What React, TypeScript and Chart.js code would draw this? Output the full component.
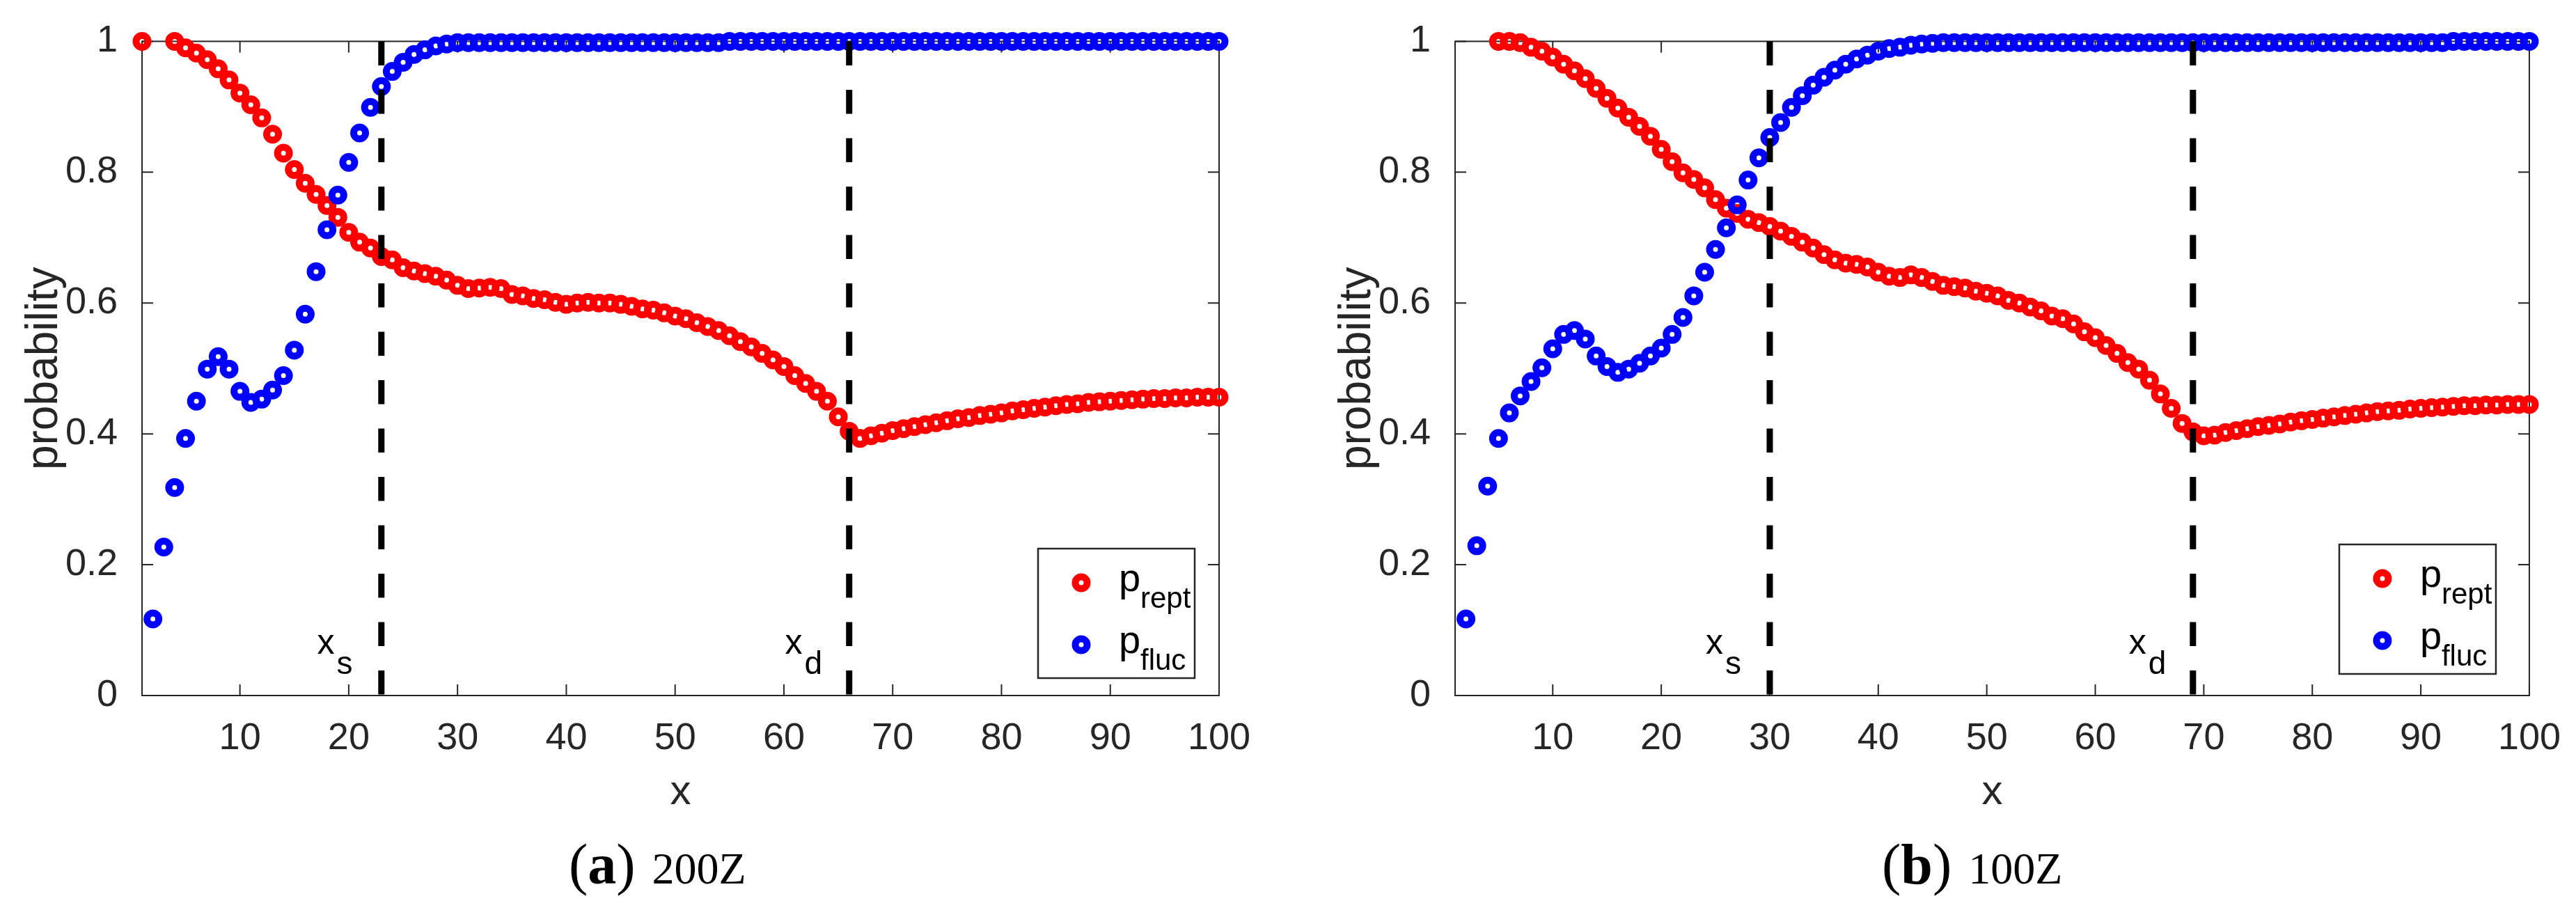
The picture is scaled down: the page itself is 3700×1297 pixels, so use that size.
import React, { useEffect, useRef } from 'react';
import { Chart, registerables } from 'chart.js';

Chart.register(...registerables);

// ---------------- DATA ----------------
const X_VALUES = [
  1, 2, 3, 4, 5, 6, 7, 8, 9, 10, 11, 12, 13, 14, 15, 16, 17, 18, 19, 20,
  21, 22, 23, 24, 25, 26, 27, 28, 29, 30, 31, 32, 33, 34, 35, 36, 37, 38, 39, 40,
  41, 42, 43, 44, 45, 46, 47, 48, 49, 50, 51, 52, 53, 54, 55, 56, 57, 58, 59, 60,
  61, 62, 63, 64, 65, 66, 67, 68, 69, 70, 71, 72, 73, 74, 75, 76, 77, 78, 79, 80,
  81, 82, 83, 84, 85, 86, 87, 88, 89, 90, 91, 92, 93, 94, 95, 96, 97, 98, 99, 100,
];

// panel (a) 200Z
const P_REPT_A = [
  1.0, null, null, 1.0, 0.99, 0.982, 0.972, 0.958, 0.941, 0.921,
  0.903, 0.883, 0.858, 0.829, 0.804, 0.783, 0.766, 0.749, 0.731, 0.708,
  0.693, 0.684, 0.671, 0.666, 0.654, 0.649, 0.645, 0.641, 0.635, 0.627,
  0.622, 0.623, 0.624, 0.622, 0.613, 0.611, 0.607, 0.605, 0.601, 0.598,
  0.6, 0.601, 0.6, 0.6, 0.598, 0.595, 0.591, 0.589, 0.585, 0.58,
  0.576, 0.57, 0.564, 0.558, 0.55, 0.541, 0.533, 0.523, 0.513, 0.503,
  0.489, 0.477, 0.465, 0.45, 0.426, 0.404, 0.393, 0.397, 0.401, 0.405,
  0.408, 0.411, 0.414, 0.417, 0.42, 0.423, 0.425, 0.428, 0.43, 0.432,
  0.435, 0.437, 0.439, 0.441, 0.443, 0.445, 0.446, 0.448, 0.449, 0.45,
  0.451, 0.452, 0.453, 0.454, 0.454, 0.455, 0.455, 0.456, 0.456, 0.456,
];
const P_FLUC_A = [
  null, 0.117, 0.227, 0.318, 0.393, 0.45, 0.499, 0.518, 0.499, 0.465,
  0.448, 0.453, 0.467, 0.489, 0.528, 0.583, 0.648, 0.712, 0.765, 0.815,
  0.86, 0.899, 0.931, 0.954, 0.968, 0.98, 0.987, 0.993, 0.996, 0.998,
  0.998, 0.998, 0.998, 0.998, 0.998, 0.998, 0.998, 0.998, 0.998, 0.998,
  0.998, 0.998, 0.998, 0.998, 0.998, 0.998, 0.998, 0.998, 0.998, 0.998,
  0.998, 0.998, 0.998, 0.998, 1.0, 1.0, 1.0, 1.0, 1.0, 1.0,
  1.0, 1.0, 1.0, 1.0, 1.0, 1.0, 1.0, 1.0, 1.0, 1.0,
  1.0, 1.0, 1.0, 1.0, 1.0, 1.0, 1.0, 1.0, 1.0, 1.0,
  1.0, 1.0, 1.0, 1.0, 1.0, 1.0, 1.0, 1.0, 1.0, 1.0,
  1.0, 1.0, 1.0, 1.0, 1.0, 1.0, 1.0, 1.0, 1.0, 1.0,
];

// panel (b) 100Z
const P_REPT_B = [
  null, null, null, null, 1.0, 1.0, 0.998, 0.991, 0.985, 0.976,
  0.965, 0.955, 0.943, 0.928, 0.913, 0.898, 0.884, 0.87, 0.855, 0.835,
  0.816, 0.799, 0.789, 0.776, 0.758, 0.745, 0.737, 0.728, 0.723, 0.717,
  0.71, 0.702, 0.693, 0.684, 0.674, 0.666, 0.661, 0.659, 0.655, 0.647,
  0.641, 0.639, 0.643, 0.639, 0.633, 0.627, 0.625, 0.623, 0.618, 0.615,
  0.611, 0.604, 0.6, 0.594, 0.588, 0.58, 0.576, 0.568, 0.556, 0.547,
  0.535, 0.523, 0.509, 0.499, 0.482, 0.461, 0.439, 0.416, 0.403, 0.397,
  0.398, 0.402, 0.405, 0.408, 0.411, 0.413, 0.415, 0.418, 0.42, 0.422,
  0.424, 0.426, 0.428, 0.43, 0.432, 0.434, 0.435, 0.436, 0.438, 0.439,
  0.44, 0.441, 0.442, 0.443, 0.443, 0.444, 0.444, 0.445, 0.445, 0.445,
];
const P_FLUC_B = [
  null, 0.117, 0.229, 0.32, 0.393, 0.432, 0.458, 0.48, 0.501, 0.53,
  0.552, 0.558, 0.545, 0.519, 0.503, 0.494, 0.499, 0.508, 0.519, 0.531,
  0.552, 0.578, 0.611, 0.647, 0.682, 0.715, 0.75, 0.788, 0.822, 0.853,
  0.876, 0.899, 0.917, 0.933, 0.945, 0.956, 0.965, 0.973, 0.979, 0.985,
  0.989, 0.991, 0.994, 0.996, 0.997, 0.998, 0.998, 0.998, 0.998, 0.998,
  0.998, 0.998, 0.998, 0.998, 0.998, 0.998, 0.998, 0.998, 0.998, 0.998,
  0.998, 0.998, 0.998, 0.998, 0.998, 0.998, 0.998, 0.998, 0.998, 0.998,
  0.998, 0.998, 0.998, 0.998, 0.998, 0.998, 0.998, 0.998, 0.998, 0.998,
  0.998, 0.998, 0.998, 0.998, 0.998, 0.998, 0.998, 0.998, 0.998, 0.998,
  0.998, 0.998, 1.0, 1.0, 1.0, 1.0, 1.0, 1.0, 1.0, 1.0,
];

const X_TICKS = [10, 20, 30, 40, 50, 60, 70, 80, 90, 100];
const Y_TICKS = [0, 0.2, 0.4, 0.6, 0.8, 1];
const Y_TICK_LABELS = ['0', '0.2', '0.4', '0.6', '0.8', '1'];

const XS_VALUES = [23, 30];
const XD_VALUES = [66, 69];
const PANEL_LETTERS = ['a', 'b'];
const PANEL_CAPTIONS = ['200Z', '100Z'];
const REPT_SERIES = [P_REPT_A, P_REPT_B];
const FLUC_SERIES = [P_FLUC_A, P_FLUC_B];
const LEGEND_MAIN = ['p', 'p'];
const LEGEND_SUBS = ['rept', 'fluc'];
const X_TITLE = 'x';
const Y_TITLE = 'probability';

// ---------------- STYLE / LAYOUT ----------------
const SANS = "'Liberation Sans', Arial, Helvetica, sans-serif";
const SERIF = "'Liberation Serif', 'Times New Roman', serif";
const AXIS_COLOR = '#262626';
const RED = '#ff0000';
const BLUE = '#0000ff';
const PANEL_W = 1850;
const PANEL_H = 1297;
const PLOT_TOP = 59;
const PLOT_BOTTOM = 999;
const PLOT_LEFT = [204, 240];
const PLOT_RIGHT_PAD = [99, 62];
const LEGEND_RIGHT_GAP = [35, 48];
const LEGEND_BOTTOM_GAP = [25, 31];
const TICK_LEN = 16;

function makeDecorPlugin(p: number) {
  return {
    id: 'decor' + p,
    beforeDatasetsDraw(chart: any) {
      const { ctx, chartArea: ca, scales } = chart;
      ctx.save();
      ctx.strokeStyle = AXIS_COLOR;
      ctx.lineWidth = 2;
      ctx.strokeRect(ca.left, ca.top, ca.right - ca.left, ca.bottom - ca.top);
      ctx.beginPath();
      for (const v of X_TICKS) {
        const px = scales.x.getPixelForValue(v);
        ctx.moveTo(px, ca.bottom);
        ctx.lineTo(px, ca.bottom - TICK_LEN);
        ctx.moveTo(px, ca.top);
        ctx.lineTo(px, ca.top + TICK_LEN);
      }
      for (const v of Y_TICKS) {
        const py = scales.y.getPixelForValue(v);
        ctx.moveTo(ca.left, py);
        ctx.lineTo(ca.left + TICK_LEN, py);
        ctx.moveTo(ca.right, py);
        ctx.lineTo(ca.right - TICK_LEN, py);
      }
      ctx.stroke();
      ctx.restore();
    },
    afterDatasetsDraw(chart: any) {
      const { ctx, chartArea: ca, scales } = chart;
      ctx.save();
      ctx.fillStyle = '#000';
      ctx.textBaseline = 'alphabetic';
      ctx.textAlign = 'left';

      // x_s / x_d annotations
      const drawSub = (main: string, sub: string, xv: number) => {
        const x0 = scales.x.getPixelForValue(xv - 5.9);
        ctx.font = `50px ${SANS}`;
        ctx.fillText(main, x0, ca.bottom - 60);
        const w = ctx.measureText(main).width;
        ctx.font = `46px ${SANS}`;
        ctx.fillText(sub, x0 + w + 3, ca.bottom - 31);
      };
      drawSub('x', 's', XS_VALUES[p]);
      drawSub('x', 'd', XD_VALUES[p]);

      // legend
      const LW = 225;
      const LH = 186;
      const lx = ca.right - LEGEND_RIGHT_GAP[p] - LW;
      const ly = ca.bottom - LEGEND_BOTTOM_GAP[p] - LH;
      ctx.fillStyle = '#fff';
      ctx.fillRect(lx, ly, LW, LH);
      ctx.strokeStyle = AXIS_COLOR;
      ctx.lineWidth = 2.5;
      ctx.strokeRect(lx, ly, LW, LH);
      const colors = [RED, BLUE];
      for (let i = 0; i < 2; i++) {
        const cy = ly + 49 + i * 89;
        ctx.beginPath();
        ctx.arc(lx + 62, cy, 8.5, 0, Math.PI * 2);
        ctx.strokeStyle = colors[i];
        ctx.lineWidth = 10;
        ctx.stroke();
        ctx.fillStyle = '#000';
        ctx.font = `56px ${SANS}`;
        ctx.fillText(LEGEND_MAIN[i], lx + 116, cy + 12);
        ctx.font = `42px ${SANS}`;
        ctx.fillText(LEGEND_SUBS[i], lx + 147, cy + 36);
      }

      // axis titles
      ctx.fillStyle = AXIS_COLOR;
      ctx.textAlign = 'center';
      ctx.font = `60px ${SANS}`;
      ctx.fillText(X_TITLE, (ca.left + ca.right) / 2, 1155);
      ctx.save();
      ctx.translate(ca.left - 122.5, (ca.top + ca.bottom) / 2);
      ctx.rotate(-Math.PI / 2);
      ctx.font = `64px ${SANS}`;
      ctx.fillText(Y_TITLE, 0, 0);
      ctx.restore();

      // caption
      ctx.fillStyle = '#000';
      ctx.textAlign = 'left';
      let cx = ca.left + 613;
      const base = 1269;
      ctx.font = `82px ${SERIF}`;
      ctx.fillText('(', cx, base);
      cx += ctx.measureText('(').width;
      ctx.font = `bold 82px ${SERIF}`;
      ctx.fillText(PANEL_LETTERS[p], cx, base);
      cx += ctx.measureText(PANEL_LETTERS[p]).width;
      ctx.font = `82px ${SERIF}`;
      ctx.fillText(')', cx, base);
      cx += ctx.measureText(')').width + 24;
      ctx.font = `64px ${SERIF}`;
      ctx.fillText(PANEL_CAPTIONS[p], cx, base);
      ctx.restore();
    },
  };
}

function buildConfig(p: number): any {
  const rept = REPT_SERIES[p];
  const fluc = FLUC_SERIES[p];
  const toPts = (arr: (number | null)[]) =>
    X_VALUES.map((x, i) => ({ x, y: arr[i] })).filter((d) => d.y !== null);
  const pointStyle = {
    pointRadius: 8.5,
    pointBorderWidth: 10,
    pointHoverRadius: 8.5,
    backgroundColor: 'rgba(0,0,0,0)',
    pointBackgroundColor: 'rgba(0,0,0,0)',
    showLine: false,
    clip: false,
  };
  const vline = (xv: number) => ({
    data: [
      { x: xv, y: 1 },
      { x: xv, y: 0 },
    ],
    showLine: true,
    pointRadius: 0,
    borderColor: '#000',
    borderWidth: 9,
    borderDash: [34.5, 35],
    borderCapStyle: 'butt',
    order: 0,
    clip: false,
  });
  const tickFont = { family: SANS, size: 54 };
  return {
    type: 'scatter',
    data: {
      datasets: [
        { ...pointStyle, data: toPts(rept), borderColor: RED, pointBorderColor: RED, order: 2 },
        { ...pointStyle, data: toPts(fluc), borderColor: BLUE, pointBorderColor: BLUE, order: 1 },
        vline(XS_VALUES[p]),
        vline(XD_VALUES[p]),
      ],
    },
    options: {
      animation: false,
      responsive: false,
      devicePixelRatio: 1,
      events: [],
      layout: { padding: { left: 0, right: PLOT_RIGHT_PAD[p], top: PLOT_TOP, bottom: 0 } },
      plugins: { legend: { display: false }, tooltip: { enabled: false } },
      scales: {
        x: {
          type: 'linear',
          min: 1,
          max: 100,
          grid: { display: false },
          border: { display: false },
          ticks: {
            font: tickFont,
            color: AXIS_COLOR,
            padding: 22,
            maxRotation: 0,
            autoSkip: false,
            callback: (v: number) => String(v),
          },
          afterBuildTicks: (s: any) => {
            s.ticks = X_TICKS.map((v) => ({ value: v }));
          },
          afterFit: (s: any) => {
            s.height = PANEL_H - PLOT_BOTTOM;
          },
        },
        y: {
          type: 'linear',
          min: 0,
          max: 1,
          grid: { display: false },
          border: { display: false },
          ticks: {
            font: tickFont,
            color: AXIS_COLOR,
            padding: 27,
            autoSkip: false,
            callback: (_v: number, i: number) => Y_TICK_LABELS[i],
          },
          afterBuildTicks: (s: any) => {
            s.ticks = Y_TICKS.map((v) => ({ value: v }));
          },
          afterFit: (s: any) => {
            s.width = PLOT_LEFT[p];
          },
        },
      },
    },
    plugins: [makeDecorPlugin(p)],
  };
}

function Panel({ index }: { index: number }) {
  const ref = useRef<HTMLCanvasElement | null>(null);
  useEffect(() => {
    if (!ref.current) return;
    const chart = new Chart(ref.current, buildConfig(index));
    return () => chart.destroy();
  }, [index]);
  return (
    <canvas
      ref={ref}
      width={PANEL_W}
      height={PANEL_H}
      style={{
        position: 'absolute',
        left: index * PANEL_W,
        top: 0,
        width: PANEL_W,
        height: PANEL_H,
      }}
    />
  );
}

export default function App() {
  return (
    <div
      style={{
        position: 'absolute',
        left: 0,
        top: 0,
        width: PANEL_W * 2,
        height: PANEL_H,
        background: '#fff',
        overflow: 'hidden',
      }}
    >
      <Panel index={0} />
      <Panel index={1} />
    </div>
  );
}
